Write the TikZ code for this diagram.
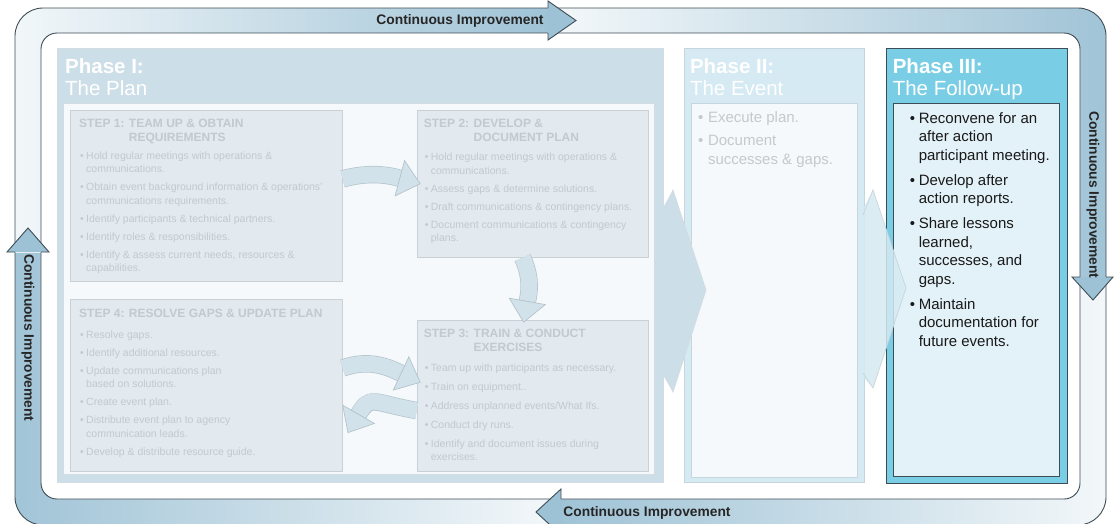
\documentclass[tikz,border=0pt]{standalone}
\usepackage{fontspec}
\setmainfont{Liberation Sans}
\usetikzlibrary{positioning,arrows.meta}

\definecolor{bandblue}{HTML}{9FC3D6}
\definecolor{bandhead}{HTML}{9DC2D5}
\definecolor{bandlight}{HTML}{F4F8FA}
\definecolor{planfill}{HTML}{CCDEE8}
\definecolor{planline}{HTML}{D3DCE2}
\definecolor{panelfill}{HTML}{F6F9FB}
\definecolor{stepfill}{HTML}{E2EAEF}
\definecolor{stepline}{HTML}{C9D1D6}
\definecolor{fadetext}{HTML}{C3C9CE}
\definecolor{eventfill}{HTML}{D5EAF2}
\definecolor{eventline}{HTML}{C6D6DD}
\definecolor{followfill}{HTML}{79CEE5}
\definecolor{followpanel}{HTML}{E3F2F8}
\definecolor{darkline}{HTML}{3E4C55}
\definecolor{loopfill}{HTML}{D2E2EB}
\definecolor{loopline}{HTML}{B4C3CC}

\newcommand\bul[1][6pt]{\makebox[#1][l]{\textbullet}}
\newcommand\ind[1][6pt]{\hspace*{#1}}

\begin{document}
\begin{tikzpicture}[x=1pt, y=-1pt,
  phase/.style={rectangle, anchor=north west, inner sep=0pt, line width=0.8pt},
  panel/.style={rectangle, anchor=north west, inner sep=0pt, line width=0.7pt},
  stepbox/.style={rectangle, draw=stepline, fill=stepfill, anchor=north west, inner sep=0pt, line width=0.7pt},
  stephead/.style={anchor=north west, inner sep=0pt, align=left, text=fadetext, font=\fontsize{12}{14}\selectfont\bfseries},
  steptext/.style={anchor=north west, inner sep=0pt, align=left, text=fadetext, font=\fontsize{10.5}{13.5}\selectfont},
  phasetitle/.style={anchor=north west, inner sep=0pt, align=left, text=white, font=\fontsize{20.5}{22}\selectfont},
  phasetext/.style={anchor=north west, inner sep=0pt, align=left, font=\fontsize{15}{18.5}\selectfont},
  cyclelabel/.style={font=\fontsize{13.8}{15}\selectfont\bfseries, text=black!85, inner sep=0pt},
  looparrow/.style={line width=16pt, draw=loopfill,
    -{Triangle[length=22pt, width=38pt, line width=0.7pt, color=loopline, fill=loopfill]},
    preaction={draw=loopline, line width=17.4pt, -, shorten >=20pt}},
  headline/.style={draw=darkline, line width=0.9pt, line join=miter},
  chevron/.style={line width=0.7pt}
]
\useasboundingbox (0,0) rectangle (1115,523);

% Ciclo
\begin{scope}
  \clip[rounded corners=28pt] (15,8) rectangle (1106,525);
  \shade[left color=bandblue, right color=bandlight] (0,228) rectangle (561,525);
  \shade[left color=bandlight, right color=bandblue] (0,0) rectangle (548,252);
  \shade[left color=bandlight, right color=bandblue] (548,0) rectangle (1115,277);
  \shade[left color=bandblue, right color=bandlight] (561,277) rectangle (1115,525);
\end{scope}
\fill[white, rounded corners=16pt] (41,33) rectangle (1080,499);
\draw[headline, rounded corners=28pt] (15,8) rectangle (1106,525);
\draw[headline, rounded corners=16pt] (41,33) rectangle (1080,499);

\fill[bandhead] (548,1) -- (576,20.5) -- (548,40) -- cycle;
\draw[headline] (548,8) -- (548,1) -- (576,20.5) -- (548,40) -- (548,33);
\fill[bandhead] (1072,277) -- (1113,277) -- (1093,300) -- cycle;
\draw[headline] (1080,277) -- (1072,277) -- (1093,300) -- (1113,277) -- (1106,277);
\fill[bandhead] (561,489) -- (536,512) -- (561,535) -- cycle;
\draw[headline] (561,499) -- (561,489) -- (536,512) -- (561,535) -- (561,525);
\fill[bandhead] (7,252) -- (28,228) -- (49,252) -- cycle;
\draw[headline] (15,252) -- (7,252) -- (28,228) -- (49,252) -- (41,252);

\node[cyclelabel] (ci1) at (460,20.5) {Continuous Improvement};
\node[cyclelabel, rotate=-90] (ci2) at (1093,195) {Continuous Improvement};
\node[cyclelabel] (ci3) at (647,512.5) {Continuous Improvement};
\node[cyclelabel, rotate=-90] (ci4) at (28,338) {Continuous Improvement};

% Fases
\node[phase, draw=planline, fill=planfill, minimum width=606pt, minimum height=434pt] (p1) at (57,48) {};
\node[phase, draw=eventline, fill=eventfill, minimum width=180pt, minimum height=434pt, right=20pt of p1.north east, anchor=north west] (p2) {};
\node[phase, draw=darkline, fill=followfill, minimum width=181pt, minimum height=435pt, right=21pt of p2.north east, anchor=north west] (p3) {};

\node[panel, draw=planline, fill=panelfill, minimum width=591pt, minimum height=371pt] (pan1) at ([shift={(6,55)}]p1.north west) {};
\node[panel, draw=eventline, fill=panelfill, minimum width=166pt, minimum height=374pt] (pan2) at ([shift={(7,55)}]p2.north west) {};
\node[panel, draw=darkline, fill=followpanel, minimum width=166pt, minimum height=373pt] (pan3) at ([shift={(7,55)}]p3.north west) {};

\node[phasetitle] (t1) at ([shift={(8,10)}]p1.north west) {\textbf{Phase I:}\\The Plan};
\node[phasetitle] (t2) at ([shift={(6,10)}]p2.north west) {\textbf{Phase II:}\\The Event};
\node[phasetitle] (t3) at ([shift={(7,10)}]p3.north west) {\textbf{Phase III:}\\The Follow-up};

% Pasos
\node[stepbox, minimum width=272pt, minimum height=171pt] (s1) at ([shift={(7,7)}]pan1.north west) {};
\node[stepbox, minimum width=231pt, minimum height=147pt, right=74pt of s1.north east, anchor=north west] (s2) {};
\node[stepbox, minimum width=272pt, minimum height=172pt, below=17pt of s1.south west, anchor=north west] (s4) {};
\node[stepbox, minimum width=231pt, minimum height=151pt, below=62pt of s2.south west, anchor=north west] (s3) {};

\node[stephead] (h1) at ([shift={(9,9)}]s1.north west) {STEP 1: TEAM UP \& OBTAIN\\\phantom{STEP 1: }REQUIREMENTS};
\node[steptext] (b1) at ([shift={(10,41.5)}]s1.north west) {\bul Hold regular meetings with operations \&\\\ind communications.\\[4.5pt]
  \bul Obtain event background information \& operations’\\\ind communications requirements.\\[4.5pt]
  \bul Identify participants \& technical partners.\\[4.5pt]
  \bul Identify roles \& responsibilities.\\[4.5pt]
  \bul Identify \& assess current needs, resources \&\\\ind capabilities.};

\node[stephead] (h2) at ([shift={(7,9)}]s2.north west) {STEP 2: DEVELOP \&\\\phantom{STEP 2: }DOCUMENT PLAN};
\node[steptext] (b2) at ([shift={(8,43)}]s2.north west) {\bul Hold regular meetings with operations \&\\\ind communications.\\[4.5pt]
  \bul Assess gaps \& determine solutions.\\[4.5pt]
  \bul Draft communications \& contingency plans.\\[4.5pt]
  \bul Document communications \& contingency\\\ind plans.};

\node[stephead] (h3) at ([shift={(7,9)}]s3.north west) {STEP 3: TRAIN \& CONDUCT\\\phantom{STEP 3: }EXERCISES};
\node[steptext] (b3) at ([shift={(8,43.5)}]s3.north west) {\bul Team up with participants as necessary.\\[5.5pt]
  \bul Train on equipment..\\[5.5pt]
  \bul Address unplanned events/What Ifs.\\[5.5pt]
  \bul Conduct dry runs.\\[5.5pt]
  \bul Identify and document issues during\\\ind exercises.};

\node[stephead] (h4) at ([shift={(9,10)}]s4.north west) {STEP 4: RESOLVE GAPS \& UPDATE PLAN};
\node[steptext] (b4) at ([shift={(10,31.5)}]s4.north west) {\bul Resolve gaps.\\[4.5pt]
  \bul Identify additional resources.\\[4.5pt]
  \bul Update communications plan\\\ind based on solutions.\\[4.5pt]
  \bul Create event plan.\\[4.5pt]
  \bul Distribute event plan to agency\\\ind communication leads.\\[4.5pt]
  \bul Develop \& distribute resource guide.};

\draw[looparrow] ([yshift=17pt]s1.east) to[out=15, in=165] ([xshift=4pt]s2.west);
\draw[looparrow] ([xshift=-10pt]s2.south) to[out=-65, in=80] ([shift={(-9,3)}]s3.north);
\draw[looparrow] ([yshift=17pt]s4.east) to[out=20, in=155] ([shift={(4,-13)}]s3.west);
\draw[looparrow] ([yshift=-15pt]s3.west) to[out=170, in=60, looseness=1.6] ([shift={(5,48)}]s4.east);

% Evento y seguimiento
\node[phasetext, text=fadetext] (e1) at ([shift={(7,8)}]pan2.north west) {\bul[10pt]Execute plan.\\[5pt]\bul[10pt]Document\\\ind[10pt]successes \& gaps.};

\node[phasetext, text=black!90] (f1) at ([shift={(17,9)}]pan3.north west) {\bul[9pt]Reconvene for an\\\ind[9pt]after action\\\ind[9pt]participant meeting.\\[6.5pt]
  \bul[9pt]Develop after\\\ind[9pt]action reports.\\[6.5pt]
  \bul[9pt]Share lessons\\\ind[9pt]learned,\\\ind[9pt]successes, and\\\ind[9pt]gaps.\\[6.5pt]
  \bul[9pt]Maintain\\\ind[9pt]documentation for\\\ind[9pt]future events.};

% Flechas entre fases
\fill[planfill] (660,213) -- (673,190) -- (706,290) -- (673,392) -- (660,370) -- cycle;
\draw[planline, chevron] (663,213) -- (673,190) -- (706,290) -- (673,392) -- (663,370);
\fill[eventfill, opacity=0.85] (860,215) -- (873,190) -- (906,288) -- (873,388) -- (860,373) -- cycle;
\draw[eventline, chevron] (863,215) -- (873,190) -- (906,288) -- (873,388) -- (863,373);

\end{tikzpicture}
\end{document}
